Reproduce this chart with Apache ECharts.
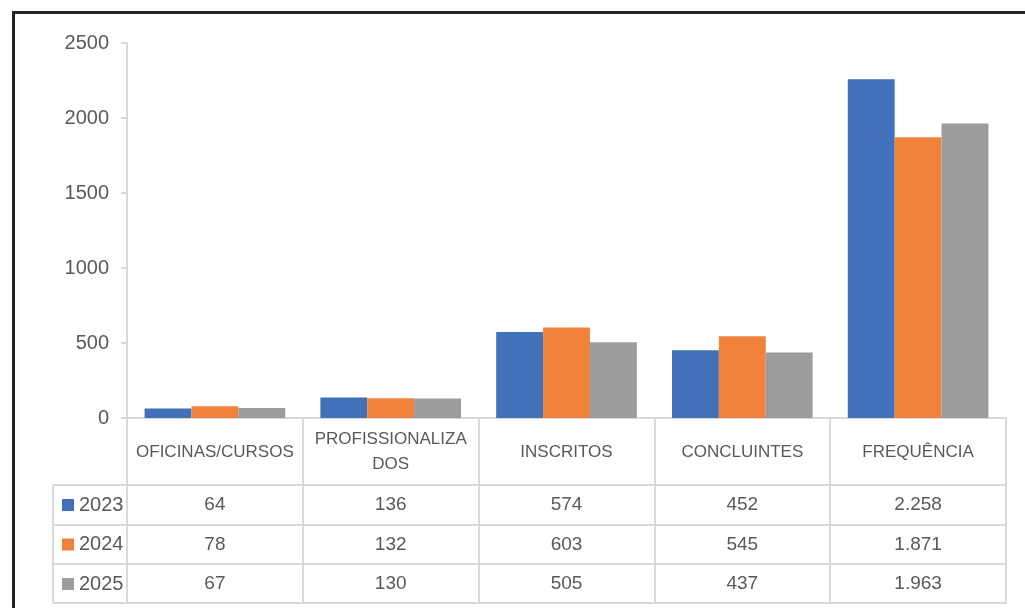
<!DOCTYPE html>
<html>
<head>
<meta charset="utf-8">
<script src="https://cdn.jsdelivr.net/npm/echarts@6/dist/echarts.min.js"></script>
<style>
  html, body { margin: 0; padding: 0; background: #fff; }
  #chart { width: 1025px; height: 608px; }
</style>
</head>
<body>
<div id="chart"></div>
<script>
const categories = ['OFICINAS/CURSOS', 'PROFISSIONALIZADOS', 'INSCRITOS', 'CONCLUINTES', 'FREQUÊNCIA']
const seriesNames = ['2023', '2024', '2025']
const values2023 = [64, 136, 574, 452, 2258]
const values2024 = [78, 132, 603, 545, 1871]
const values2025 = [67, 130, 505, 437, 1963]
const yTicks = { min: 0, max: 2500, interval: 500 }

const seriesValues = [values2023, values2024, values2025]
const colors = ['#4171b9', '#f0823b', '#9b9d9d']
const font = "'Liberation Sans', Arial, sans-serif"
const textColor = '#595959'
const lineColor = '#d9d9d9'

// header row 418..485, value rows of ~39.5px below it
const rowOffsets = [67, 107, 146]
const tableBottom = 185

const fmtNumber = (v) => String(v).replace(/\B(?=(\d{3})+(?!\d))/g, '.')

const splitLabel = (s) => (s.length > 15 ? s.slice(0, 15) + '\n' + s.slice(15) : s)

const rowAxes = rowOffsets.map((offset, i) => ({
  type: 'category',
  data: categories,
  position: 'bottom',
  offset,
  axisLine: { show: true, lineStyle: { color: lineColor, width: 2 } },
  axisTick: { show: false },
  axisLabel: {
    interval: 0,
    margin: 20,
    verticalAlign: 'middle',
    color: textColor,
    fontFamily: font,
    fontSize: 19,
    formatter: (val, idx) => fmtNumber(seriesValues[i][idx])
  }
}))

const chart = echarts.init(document.getElementById('chart'), null, { renderer: 'canvas' })

chart.setOption({
  animation: false,
  backgroundColor: '#fff',
  grid: { left: 127, right: 19, top: 43, bottom: 190, containLabel: false },
  legend: {
    orient: 'vertical',
    left: 62,
    top: 495,
    padding: 0,
    itemGap: 19.5,
    itemWidth: 12,
    itemHeight: 12,
    icon: 'rect',
    selectedMode: false,
    data: seriesNames,
    textStyle: { color: textColor, fontFamily: font, fontSize: 20, lineHeight: 20 }
  },
  xAxis: [
    {
      type: 'category',
      data: categories,
      position: 'bottom',
      axisLine: { show: true, lineStyle: { color: lineColor, width: 2 } },
      axisTick: { show: true, interval: 0, length: tableBottom, lineStyle: { color: lineColor, width: 2 } },
      axisLabel: {
        interval: 0,
        margin: 34,
        verticalAlign: 'middle',
        color: textColor,
        fontFamily: font,
        fontSize: 17,
        lineHeight: 25,
        formatter: splitLabel
      }
    },
    ...rowAxes,
    {
      type: 'category',
      data: categories,
      position: 'bottom',
      offset: tableBottom,
      axisLine: { show: true, lineStyle: { color: lineColor, width: 2 } },
      axisTick: { show: false },
      axisLabel: { show: false }
    }
  ],
  yAxis: {
    type: 'value',
    min: yTicks.min,
    max: yTicks.max,
    interval: yTicks.interval,
    axisLine: { show: true, lineStyle: { color: lineColor, width: 2 } },
    axisTick: { show: true, length: 6, lineStyle: { color: lineColor, width: 2 } },
    splitLine: { show: false },
    axisLabel: { margin: 18, color: textColor, fontFamily: font, fontSize: 20, formatter: (v) => String(v) }
  },
  series: seriesNames.map((name, i) => ({
    name,
    type: 'bar',
    data: seriesValues[i],
    barGap: '0%',
    barCategoryGap: '20%',
    itemStyle: { color: colors[i] }
  })),
  graphic: [
    // outer frame of the picture
    {
      type: 'rect',
      shape: { x: 13.5, y: 12.5, width: 1030, height: 620 },
      style: { fill: null, stroke: '#222', lineWidth: 3 },
      silent: true
    },
    // legend column of the data table
    {
      type: 'group',
      silent: true,
      children: [
        { type: 'line', shape: { x1: 53, y1: 485, x2: 127, y2: 485 }, style: { stroke: lineColor, lineWidth: 2 } },
        { type: 'line', shape: { x1: 53, y1: 525, x2: 127, y2: 525 }, style: { stroke: lineColor, lineWidth: 2 } },
        { type: 'line', shape: { x1: 53, y1: 564, x2: 127, y2: 564 }, style: { stroke: lineColor, lineWidth: 2 } },
        { type: 'line', shape: { x1: 53, y1: 603, x2: 127, y2: 603 }, style: { stroke: lineColor, lineWidth: 2 } },
        { type: 'line', shape: { x1: 53, y1: 485, x2: 53, y2: 603 }, style: { stroke: lineColor, lineWidth: 2 } }
      ]
    }
  ]
})
</script>
</body>
</html>
